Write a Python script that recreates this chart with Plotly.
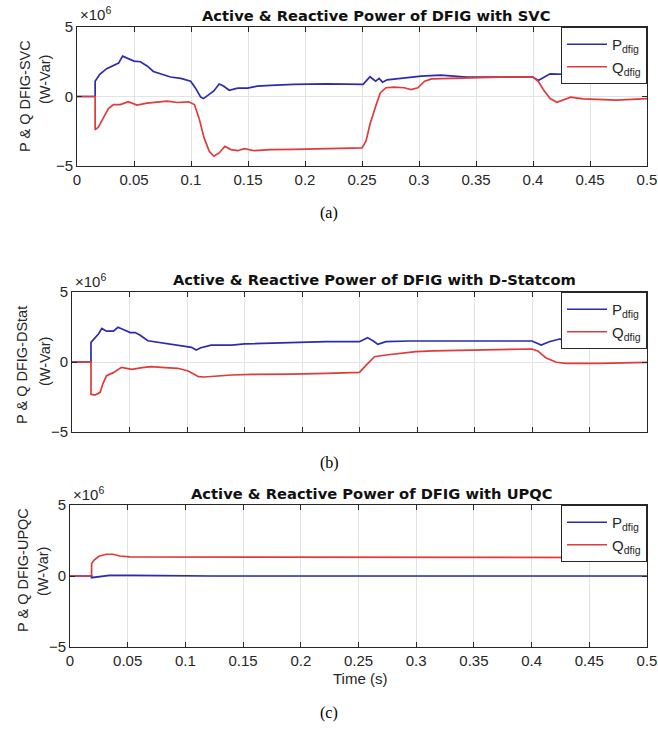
import plotly.graph_objects as go

# ---------------- data (values in units of 10^6 W / Var) ----------------
t_a_P = [0, 0.0159, 0.0159, 0.020, 0.026, 0.032, 0.0365, 0.040, 0.045, 0.050, 0.0556, 0.0615, 0.067, 0.075,
         0.082, 0.091, 0.0997, 0.104, 0.1085, 0.111, 0.117, 0.120, 0.1247, 0.1285, 0.1335, 0.141, 0.1497, 0.158,
         0.170, 0.19, 0.219, 0.248, 0.251, 0.257, 0.262, 0.265, 0.268, 0.272, 0.284, 0.302, 0.319, 0.342, 0.371,
         0.400, 0.4046, 0.409, 0.415, 0.427, 0.433, 0.450, 0.473, 0.500]
P_a = [0, 0, 1.1, 1.6, 2.0, 2.2, 2.4, 2.9, 2.75, 2.55, 2.5, 2.2, 1.8, 1.6,
       1.4, 1.3, 1.1, 0.6, -0.05, -0.15, 0.25, 0.4, 0.9, 0.75, 0.45, 0.6, 0.6, 0.75,
       0.8, 0.87, 0.91, 0.91, 0.87, 1.42, 1.1, 1.3, 1.03, 1.2, 1.3, 1.47, 1.54, 1.4, 1.4,
       1.4, 1.15, 1.35, 1.63, 1.6, 1.47, 1.63, 1.59, 1.59]

t_a_Q = [0, 0.0159, 0.0159, 0.0188, 0.023, 0.0276, 0.032, 0.038, 0.045, 0.0526, 0.0615, 0.070, 0.079, 0.088,
         0.098, 0.103, 0.107, 0.1115, 0.116, 0.120, 0.1247, 0.1297, 0.135, 0.141, 0.1468, 0.1556, 0.170, 0.19,
         0.219, 0.25, 0.2535, 0.257, 0.262, 0.266, 0.271, 0.278, 0.287, 0.293, 0.299, 0.305, 0.311, 0.325, 0.342,
         0.371, 0.400, 0.4046, 0.409, 0.415, 0.421, 0.427, 0.433, 0.444, 0.459, 0.473, 0.500]
Q_a = [0, 0, -2.4, -2.2, -1.55, -0.87, -0.58, -0.58, -0.38, -0.62, -0.48, -0.43, -0.34, -0.43,
       -0.38, -0.58, -1.54, -2.98, -3.94, -4.3, -4.06, -3.58, -3.82, -3.9, -3.75, -3.9, -3.82, -3.8,
       -3.75, -3.7, -3.22, -2.0, -0.7, 0.26, 0.63, 0.67, 0.63, 0.5, 0.63, 1.1, 1.27, 1.3, 1.35,
       1.4, 1.4, 1.1, 0.5, -0.15, -0.41, -0.22, -0.05, -0.17, -0.22, -0.26, -0.15]

t_b_P = [0, 0.0165, 0.0165, 0.020, 0.023, 0.026, 0.030, 0.036, 0.040, 0.045, 0.0507, 0.055, 0.059, 0.066,
         0.075, 0.0866, 0.098, 0.104, 0.108, 0.112, 0.121, 0.130, 0.139, 0.150, 0.168, 0.192, 0.221, 0.25,
         0.257, 0.262, 0.266, 0.273, 0.294, 0.337, 0.358, 0.400, 0.408, 0.415, 0.424, 0.444, 0.473, 0.500]
P_b = [0, 0, 1.4, 1.7, 2.0, 2.4, 2.2, 2.2, 2.48, 2.3, 2.1, 2.1, 1.93, 1.52,
       1.4, 1.26, 1.14, 1.05, 0.86, 1.02, 1.21, 1.21, 1.21, 1.29, 1.33, 1.4, 1.45, 1.45,
       1.74, 1.5, 1.26, 1.45, 1.5, 1.5, 1.5, 1.5, 1.21, 1.45, 1.64, 1.57, 1.57, 1.57]

t_b_Q = [0, 0.0165, 0.0165, 0.020, 0.0245, 0.027, 0.030, 0.036, 0.043, 0.052, 0.061, 0.069, 0.081, 0.092,
         0.101, 0.110, 0.115, 0.127, 0.139, 0.156, 0.168, 0.192, 0.221, 0.25, 0.256, 0.263, 0.273, 0.285,
         0.299, 0.314, 0.337, 0.358, 0.400, 0.405, 0.412, 0.421, 0.430, 0.459, 0.500]
Q_b = [0, 0, -2.3, -2.36, -2.17, -1.52, -0.98, -0.76, -0.38, -0.52, -0.4, -0.33, -0.4, -0.45,
       -0.64, -1.05, -1.07, -0.98, -0.93, -0.88, -0.88, -0.86, -0.81, -0.74, -0.21, 0.38, 0.5, 0.62,
       0.74, 0.79, 0.83, 0.85, 0.93, 0.79, 0.31, -0.02, -0.1, -0.1, -0.02]

t_c_P = [0, 0.0187, 0.0187, 0.025, 0.034, 0.054, 0.123, 0.500]
P_c = [0, 0, -0.12, -0.07, 0.05, 0.05, 0.0, 0.0]

t_c_Q = [0, 0.0187, 0.0187, 0.0207, 0.025, 0.0316, 0.0374, 0.043, 0.0518, 0.0835, 0.25, 0.500]
Q_c = [0, 0, 0.87, 1.1, 1.39, 1.53, 1.53, 1.41, 1.34, 1.34, 1.32, 1.3]

titles = ["Active & Reactive Power of DFIG with SVC",
          "Active & Reactive Power of DFIG with D-Statcom",
          "Active & Reactive Power of DFIG with UPQC"]
ylabels = ["P & Q DFIG-SVC", "P & Q DFIG-DStat", "P & Q DFIG-UPQC"]
captions = ["(a)", "(b)", "(c)"]
x_ticks = [0, 0.05, 0.1, 0.15, 0.2, 0.25, 0.3, 0.35, 0.4, 0.45, 0.5]
x_ticklabels = ["0", "0.05", "0.1", "0.15", "0.2", "0.25", "0.3", "0.35", "0.4", "0.45", "0.5"]
y_ticks = [-5, 0, 5]
legend_names = ["P<sub>dfig</sub>", "Q<sub>dfig</sub>"]

series = [(t_a_P, P_a, t_a_Q, Q_a), (t_b_P, P_b, t_b_Q, Q_b), (t_c_P, P_c, t_c_Q, Q_c)]

# ---------------- layout geometry (pixels) ----------------
W, H = 658, 734
# (left, right, top, bottom) of each plot area in pixels
boxes = [(77, 647, 27, 166), (72, 647, 292, 432), (70, 647, 505, 647)]
title_y = [15, 279, 494]
title_x = [376, 374, 372]
xlab_y = [14, 281, 494]
ylab_y = [(96, 80), (365, 362), (570, 572)]
ylab_x = [(25, 45), (22, 45), (23, 43)]
cap_y = [213, 463, 713]

BLUE = "#2b2bb0"
RED = "#e03a3a"
AX = "#262626"
FONT = "Liberation Sans, Arial, sans-serif"

def px(x):
    return x / W

def py(y):
    return 1 - y / H

fig = go.Figure()
layout = dict(width=W, height=H, margin=dict(l=0, r=0, t=0, b=0, autoexpand=False),
              paper_bgcolor="white", plot_bgcolor="white",
              font=dict(family=FONT, color=AX, size=13), annotations=[])

for i, (tP, P, tQ, Q) in enumerate(series):
    n = "" if i == 0 else str(i + 1)
    xa, ya = "x" + n, "y" + n
    leg = "legend" + n
    fig.add_trace(go.Scatter(x=tP, y=P, mode="lines", name=legend_names[0],
                             line=dict(color=BLUE, width=1.7), xaxis=xa, yaxis=ya, legend=leg))
    fig.add_trace(go.Scatter(x=tQ, y=Q, mode="lines", name=legend_names[1],
                             line=dict(color=RED, width=1.7), xaxis=xa, yaxis=ya, legend=leg))
    l, r, t, b = boxes[i]
    layout["xaxis" + n] = dict(domain=[px(l), px(r)], anchor=ya, range=[0, 0.5], automargin=False,
                               tickvals=x_ticks, ticktext=x_ticklabels, showticklabels=(i != 1),
                               ticks="inside", ticklen=5, tickcolor=AX, showline=True, linecolor=AX,
                               linewidth=1, mirror="ticks", showgrid=True, gridcolor="#e3e3e3",
                               zeroline=False, tickfont=dict(size=15, color=AX))
    layout["yaxis" + n] = dict(domain=[py(b), py(t)], anchor=xa, range=[-5, 5], automargin=False,
                               tickvals=y_ticks, ticks="inside", ticklen=5, tickcolor=AX,
                               showline=True, linecolor=AX, linewidth=1, mirror="ticks",
                               showgrid=True, gridcolor="#e3e3e3", zeroline=False,
                               tickfont=dict(size=15, color=AX))
    layout[leg] = dict(x=px(r), y=py(t), xanchor="right", yanchor="top", bgcolor="white",
                       bordercolor=AX, borderwidth=1, font=dict(size=15, color=AX),
                       tracegroupgap=0, itemwidth=40)
    ann = layout["annotations"]
    ann.append(dict(x=px(title_x[i]), y=py(title_y[i]), xref="paper", yref="paper",
                    text="<b>" + titles[i].replace("&", "&amp;") + "</b>", showarrow=False,
                    xanchor="center", yanchor="middle",
                    font=dict(size=14.7, family="DejaVu Sans, sans-serif", color="#111111")))
    ann.append(dict(x=px(l + 1), y=py(xlab_y[i]), xref="paper", yref="paper",
                    text="\u00d710<sup>6</sup>", showarrow=False, xanchor="left",
                    yanchor="middle", font=dict(size=15, color=AX)))
    ann.append(dict(x=px(ylab_x[i][0]), y=py(ylab_y[i][0]), xref="paper", yref="paper",
                    text=ylabels[i].replace("&", "&amp;"), textangle=-90, showarrow=False,
                    xanchor="center", yanchor="middle", font=dict(size=14.5, color=AX)))
    ann.append(dict(x=px(ylab_x[i][1]), y=py(ylab_y[i][1]), xref="paper", yref="paper",
                    text="(W-Var)", textangle=-90, showarrow=False,
                    xanchor="center", yanchor="middle", font=dict(size=14.5, color=AX)))
    ann.append(dict(x=px(329), y=py(cap_y[i]), xref="paper", yref="paper",
                    text=captions[i], showarrow=False, xanchor="center", yanchor="middle",
                    font=dict(size=16, family="Liberation Serif, Times New Roman, serif",
                              color="#000000")))

layout["annotations"].append(dict(x=px(360), y=py(678), xref="paper", yref="paper",
                                  text="Time (s)", showarrow=False, xanchor="center",
                                  yanchor="middle", font=dict(size=15, color=AX)))

fig.update_layout(**layout)
fig.write_html("out.html")
